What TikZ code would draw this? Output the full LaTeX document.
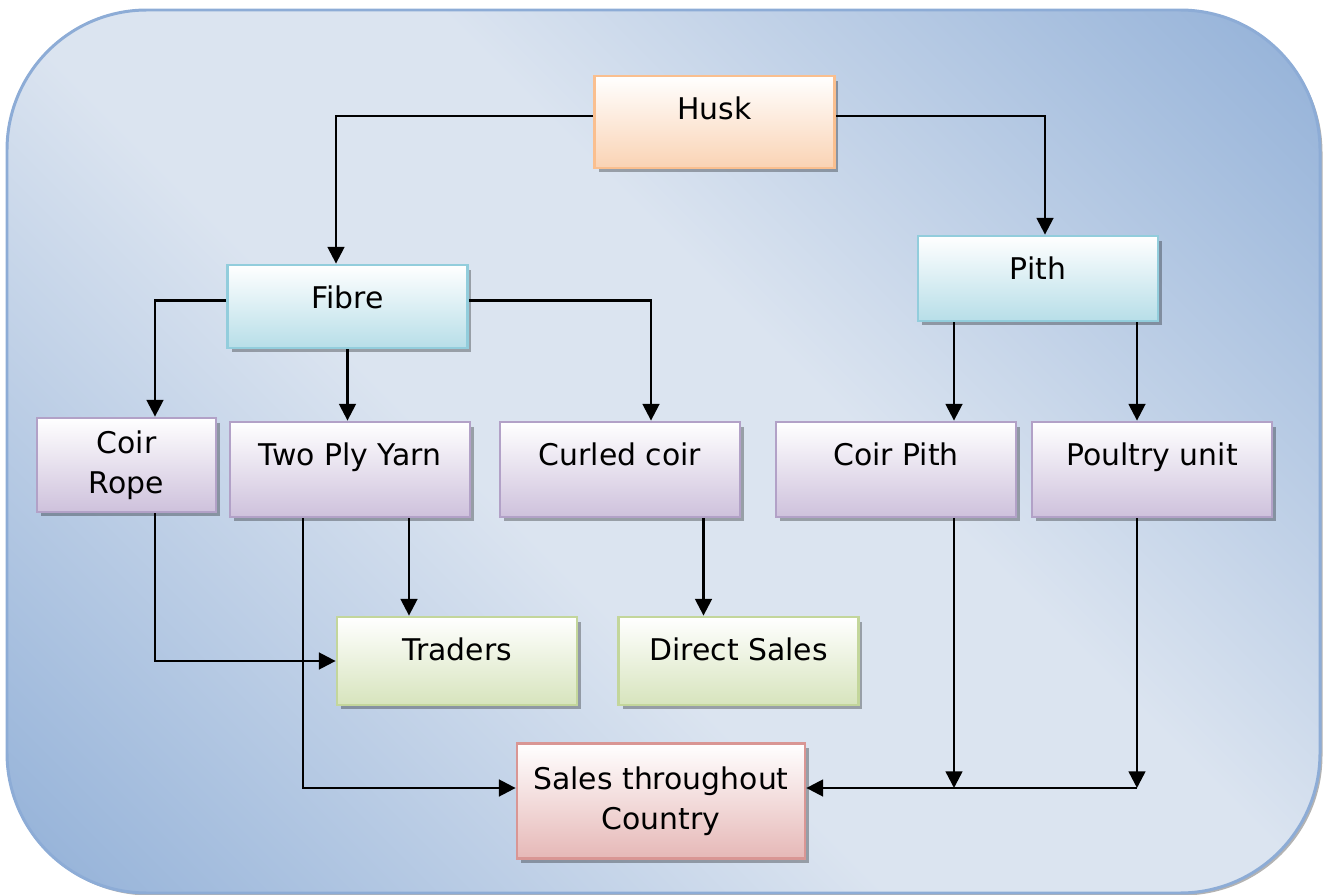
\documentclass[tikz,border=0pt]{standalone}
\usepackage{fontspec}
\setmainfont{DejaVu Sans}
\usetikzlibrary{arrows.meta, calc, shadows}

\definecolor{bgdark}{RGB}{147,177,216}
\definecolor{bglight}{RGB}{219,228,240}
\definecolor{bgline}{RGB}{141,172,214}
\definecolor{peachline}{RGB}{250,191,143}
\definecolor{peachfill}{RGB}{250,211,180}
\definecolor{cyanline}{RGB}{146,205,220}
\definecolor{cyanfill}{RGB}{183,222,232}
\definecolor{lilacline}{RGB}{178,161,199}
\definecolor{lilacfill}{RGB}{206,193,220}
\definecolor{greenline}{RGB}{195,214,155}
\definecolor{greenfill}{RGB}{215,228,189}
\definecolor{redline}{RGB}{217,150,148}
\definecolor{redfill}{RGB}{230,184,183}

\pgfdeclarehorizontalshading{bgshade}{100bp}{color(0bp)=(bgdark); color(15bp)=(bgdark); color(43bp)=(bglight); color(57bp)=(bglight); color(85bp)=(bgdark); color(100bp)=(bgdark)}

\begin{document}
\begin{tikzpicture}[
    x=0.02cm, y=-0.02cm,
    >={Triangle[length=9.5pt, width=9.5pt]},
    box/.style={
        rectangle, draw, line width=1.6pt, inner xsep=2pt, inner ysep=0pt,
        minimum width=4.8cm, font=\fontsize{17}{22.7}\selectfont,
        drop shadow={shadow xshift=0.08cm, shadow yshift=-0.09cm, fill=black, opacity=0.3}
    },
    one/.style={text height=0.87cm, text depth=#1},
    huskbox/.style={draw=peachline, top color=white, bottom color=peachfill},
    pithbox/.style={draw=cyanline, top color=white, bottom color=cyanfill},
    prodbox/.style={draw=lilacline, top color=white, bottom color=lilacfill},
    salebox/.style={draw=greenline, top color=white, bottom color=greenfill},
    endbox/.style={draw=redline, top color=white, bottom color=redfill},
    arr/.style={draw, line width=1.4pt, ->},
]
\useasboundingbox (0,0) rectangle (1326,895);

% ================================================================
%  BACKGROUND PANEL
% ================================================================
\draw[draw=bgline, line width=1.7pt, shading=bgshade, shading angle=45,
      rounded corners=2.8cm,
      drop shadow={shadow xshift=0.05cm, shadow yshift=-0.05cm, fill=gray, opacity=0.6}]
    (7,10) rectangle (1320,893);

% ================================================================
%  BOXES
% ================================================================
\node[box, huskbox, one=0.97cm] (husk)  at (714.5,122)  {Husk};
\node[box, pithbox, one=0.83cm] (pith)  at (1038,278.5) {Pith};
\node[box, pithbox, one=0.79cm] (fibre) at (347.5,306.5) {Fibre};

% --- products ---
\node[box, prodbox, minimum width=3.58cm, minimum height=1.88cm, align=center]
    (rope) at (126.5,465) {Coir\\Rope};
\node[box, prodbox, one=1.03cm] (yarn)    at (350,469.5)  {Two Ply Yarn};
\node[box, prodbox, one=1.03cm] (curled)  at (620,469.5)  {Curled coir};
\node[box, prodbox, one=1.03cm] (cpith)   at (896,469.5)  {Coir Pith};
\node[box, prodbox, one=1.03cm] (poultry) at (1152,469.5) {Poultry unit};

% --- outlets ---
\node[box, salebox, one=0.89cm] (traders) at (457,661)   {Traders};
\node[box, salebox, one=0.89cm] (direct)  at (738.5,661) {Direct Sales};
\node[box, endbox, minimum width=5.76cm, minimum height=2.3cm, align=center]
    (country) at (661,801) {Sales throughout\\Country};

% ================================================================
%  CONNECTORS
% ================================================================
\coordinate (cpx) at ($(cpith.north)+(58,0)$);
\coordinate (pux) at ($(poultry.north)+(-15,0)$);
\coordinate (tdx) at ($(traders.north)+(-48,0)$);
\coordinate (dsx) at ($(direct.north)+(-35,0)$);
\coordinate (cw)  at ($(country.west)+(0,-13)$);
\coordinate (ce)  at ($(country.east)+(0,-13)$);

% --- Husk -> Fibre, Pith ---
\draw[arr] ($(husk.west)+(0,-6)$) -| ($(fibre.north)+(-11.5,0)$);
\draw[arr] ($(husk.east)+(0,-6)$) -| ($(pith.north)+(7,0)$);

% --- Fibre -> products ---
\draw[arr] ($(fibre.west)+(0,-6)$) -| ($(rope.north)+(28.5,0)$);
\draw[arr] (fibre.south) -- (fibre.south |- yarn.north);
\draw[arr] ($(fibre.east)+(0,-6)$) -| ($(curled.north)+(31,0)$);

% --- Pith -> products ---
\draw[arr] (cpx |- pith.south) -- (cpx);
\draw[arr] (pux |- pith.south) -- (pux);

% --- products -> outlets ---
\draw[arr] ($(rope.south)+(28.5,0)$) |- (traders.west);
\draw[arr] (tdx |- yarn.south) -- (tdx);
\draw[arr] ($(yarn.south)+(-47,0)$) |- (cw);
\draw[arr] (dsx |- curled.south) -- (dsx);
\draw[arr] (cpx |- cpith.south) -- (cpx |- ce);
\draw[arr] (pux |- poultry.south) -- (pux |- ce);
\draw[arr] (pux |- ce) -- (ce);

\end{tikzpicture}
\end{document}
